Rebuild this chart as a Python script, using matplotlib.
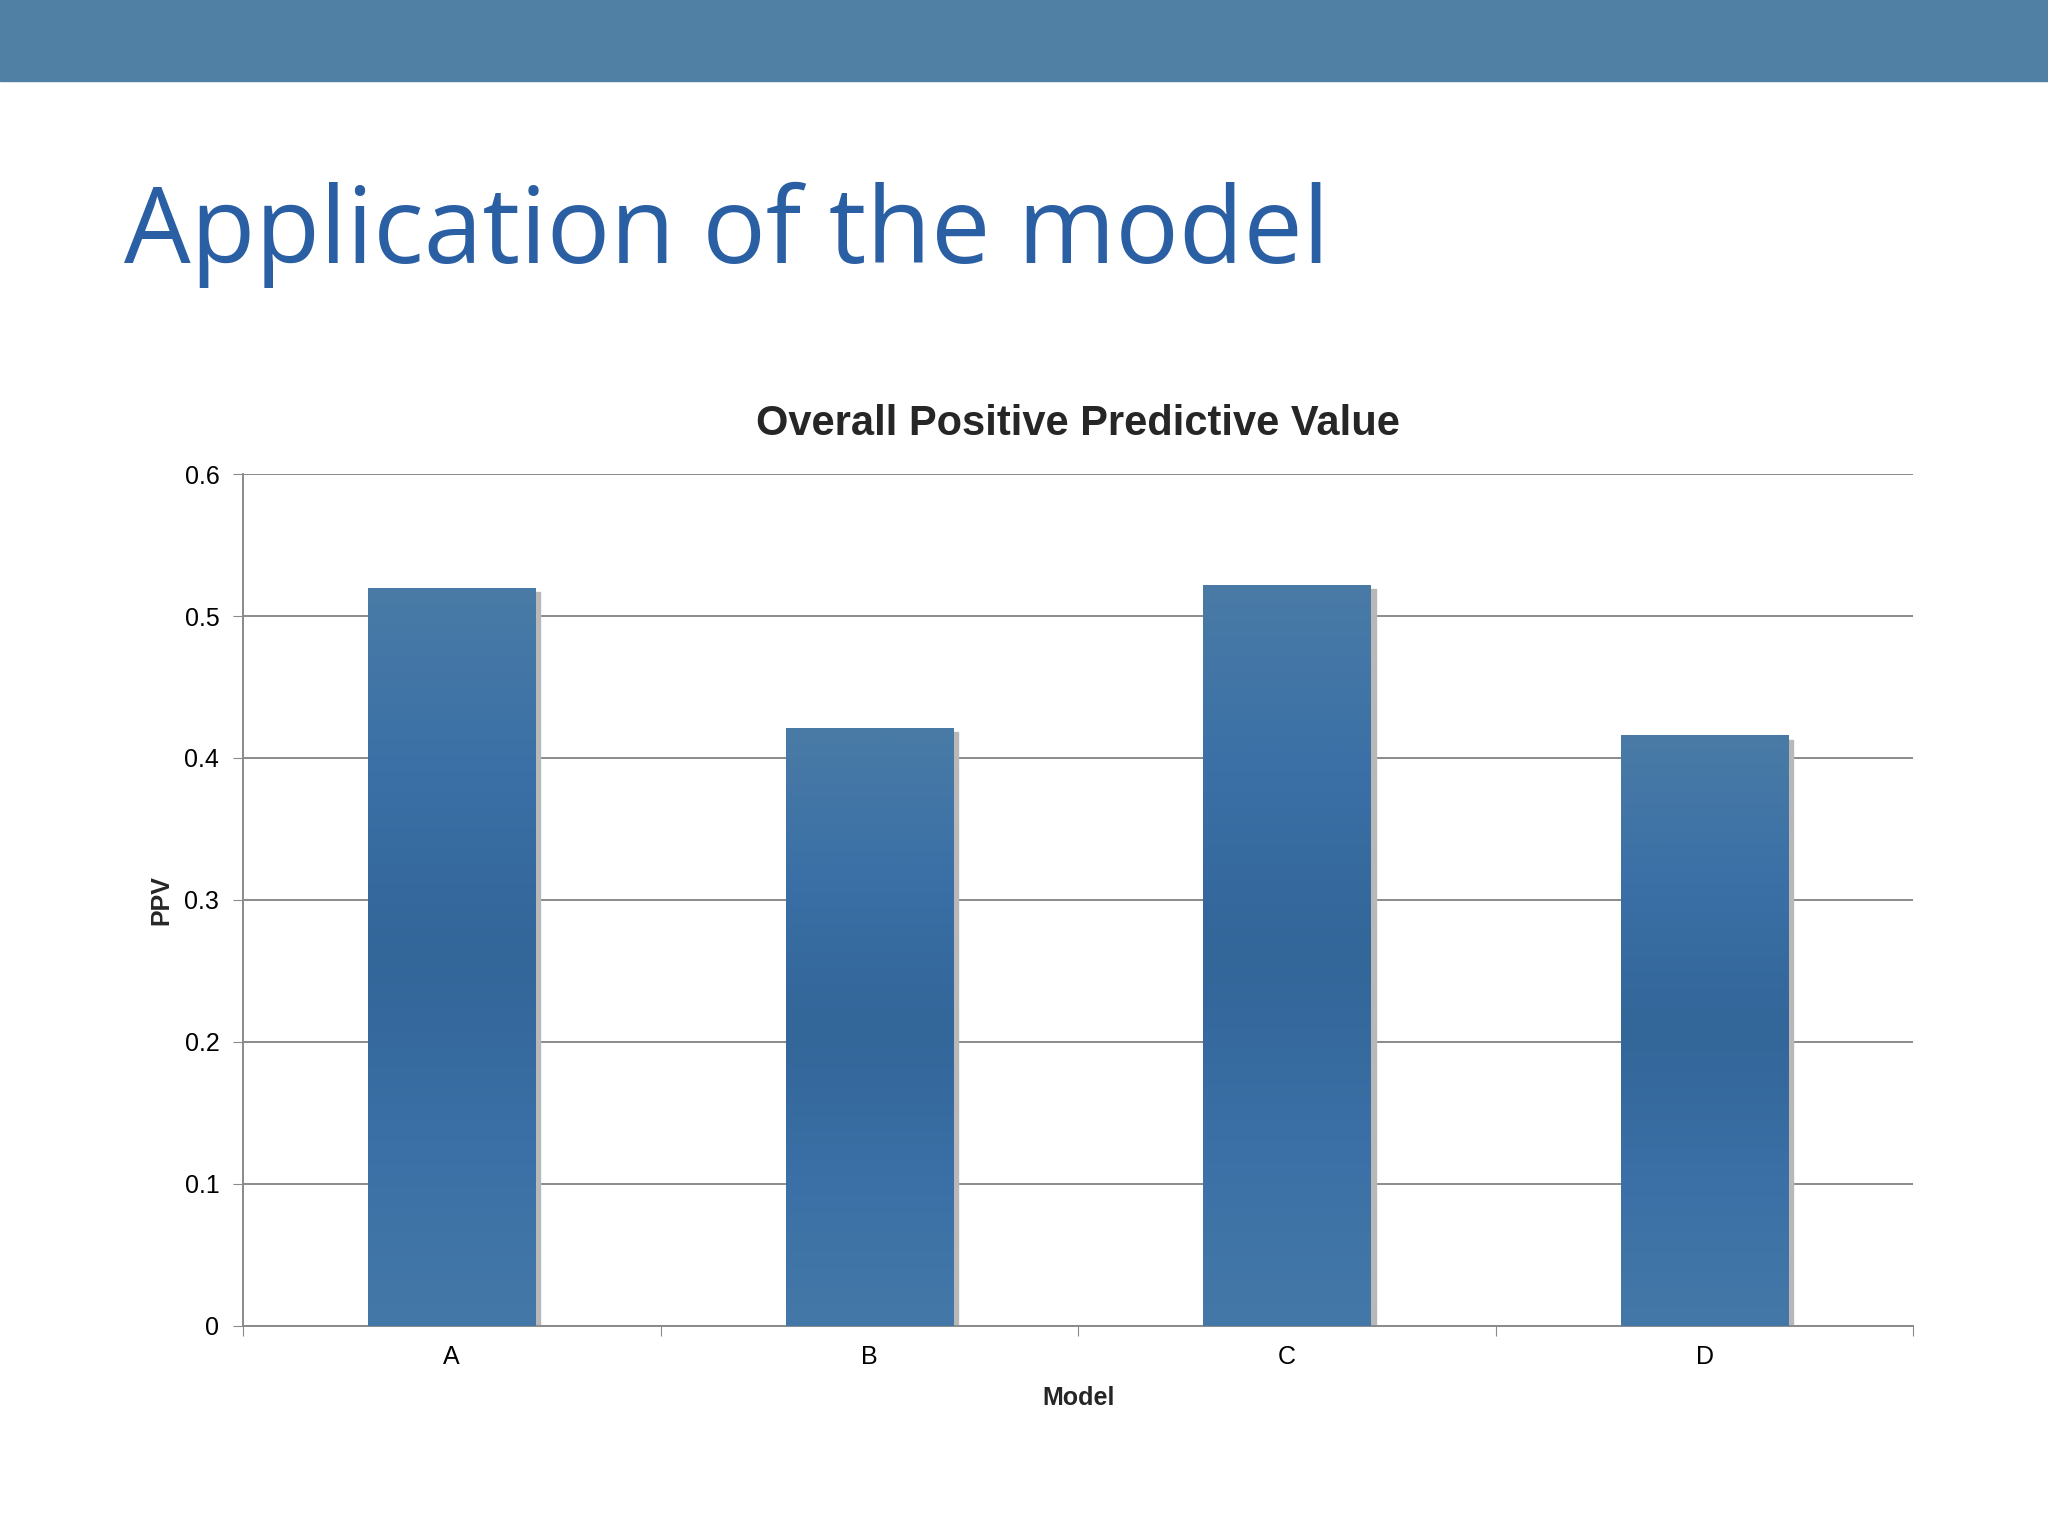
import numpy as np
import matplotlib.pyplot as plt
from matplotlib.patches import Rectangle
from matplotlib.colors import LinearSegmentedColormap

plt.rcParams['font.family'] = ['Liberation Sans', 'DejaVu Sans']

models = ['A', 'B', 'C', 'D']
ppv = [0.520, 0.421, 0.522, 0.416]
yticks = [0, 0.1, 0.2, 0.3, 0.4, 0.5, 0.6]

fig = plt.figure(figsize=(20.48, 15.36), dpi=100)

# top band
fig.patches.append(Rectangle((0, 1 - 62/1176), 1, 62/1176, transform=fig.transFigure,
                             color='#5080A4', zorder=0))
fig.text(95/1568, 1 - 180/1176, 'Application of the model', fontsize=76, color='#2B5FA3',
         family=['Open Sans', 'DejaVu Sans'], va='center', ha='left')

ax = fig.add_axes([186/1568, 1 - 1015/1176, (1465-186)/1568, (1015-363)/1176])
ax.set_xlim(-0.5, 3.5)
ax.set_ylim(0, 0.6)
ax.set_yticks(yticks)
ax.set_yticklabels(['0', '0.1', '0.2', '0.3', '0.4', '0.5', '0.6'])
ax.yaxis.grid(True, color='#8a8a8a', lw=1.4)
ax.set_axisbelow(True)
ax.set_xticks(np.arange(-0.5, 4, 1))
ax.set_xticklabels([])
ax.set_xticks(range(4), minor=True)
ax.set_xticklabels(models, minor=True)
ax.tick_params(axis='x', which='minor', length=0, labelsize=18, pad=14)
ax.tick_params(axis='x', which='major', length=7, color='#8a8a8a')
ax.tick_params(axis='y', length=7, color='#8a8a8a', labelsize=18, pad=10)
for s in ['top', 'right']:
    ax.spines[s].set_visible(False)
for s in ['left', 'bottom']:
    ax.spines[s].set_color('#8a8a8a')
    ax.spines[s].set_linewidth(1.4)

cmap = LinearSegmentedColormap.from_list('b', ['#4478A8', '#3A70A6', '#336699', '#3A70A6', '#4A7BA6'])
grad = np.linspace(0, 1, 256).reshape(-1, 1)
w = 0.4
for i, v in enumerate(ppv):
    ax.add_patch(Rectangle((i - w/2 + 0.012, 0), w, v - 0.003, color='#b8b8b8', zorder=2))
    bar = ax.bar(i, v, width=w, color='#3A6EA0', zorder=3)[0]
    im = ax.imshow(grad, cmap=cmap, aspect='auto', extent=(i - w/2, i + w/2, 0, v),
                   origin='lower', zorder=4)
    im.set_clip_path(bar)
ax.set_xlim(-0.5, 3.5)
ax.set_ylim(0, 0.6)

ax.set_title('Overall Positive Predictive Value', fontsize=30, fontweight='bold',
             color='#262626', pad=28)
ax.set_xlabel('Model', fontsize=18, fontweight='bold', color='#262626', labelpad=12)
ax.set_ylabel('PPV', fontsize=18, fontweight='bold', color='#262626', labelpad=8)

fig.savefig('out.png', dpi=100)
